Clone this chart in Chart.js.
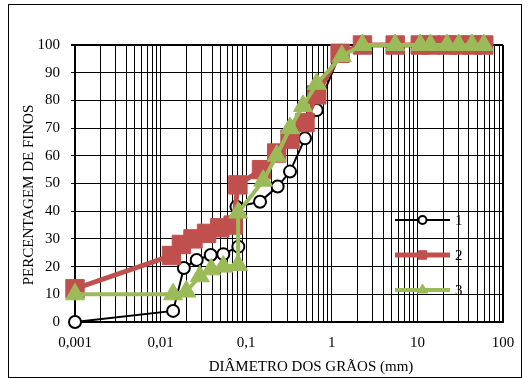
<!DOCTYPE html>
<html>
<head>
<meta charset="utf-8">
<script src="https://cdn.jsdelivr.net/npm/chart.js@4.4.1/dist/chart.umd.min.js"></script>
<style>
  html, body { margin: 0; padding: 0; background: #fff; }
</style>
</head>
<body>
<canvas id="graficoGranulometria" width="530" height="378"></canvas>
<script>
// Curvas granulométricas: diâmetro dos grãos (mm) x percentagem de finos
const amostras = ['1', '2', '3'];

const diametro1 = [0.001, 0.014, 0.0187, 0.0264, 0.0385, 0.054, 0.081, 0.077, 0.145, 0.233, 0.325, 0.486, 0.667, 1.25, 2.28, 5.5, 10.8, 14.2, 22.2, 30.4, 43.5, 59.6];
const finos1 = [0, 4, 19.5, 22.4, 24.2, 24.5, 27.2, 41.6, 43.4, 48.9, 54.3, 66.3, 76.5, 97, 100, 100, 100, 100, 100, 100, 100, 100];

const diametro2 = [0.001, 0.0134, 0.0175, 0.0239, 0.0344, 0.0491, 0.0705, 0.08, 0.151, 0.227, 0.325, 0.486, 0.667, 1.25, 2.28, 5.5, 10.8, 14.2, 22.2, 30.4, 43.5, 59.6];
const finos2 = [12, 24, 28, 30, 32, 34, 35, 49.5, 55, 61, 66, 72, 82, 97, 100, 100, 100, 100, 100, 100, 100, 100];

const diametro3 = [0.001, 0.014, 0.02, 0.0287, 0.039, 0.054, 0.0805, 0.0805, 0.158, 0.227, 0.325, 0.46, 0.667, 1.31, 2.28, 5.5, 10.8, 14.2, 22.2, 30.4, 43.5, 59.6];
const finos3 = [10, 10, 11, 16.5, 19, 20, 20.6, 39.5, 51, 60, 70, 78, 86, 96, 100, 100, 100, 100, 100, 100, 100, 100];

const xTicks = [0.001, 0.01, 0.1, 1, 10, 100];
const xTickLabels = ['0,001', '0,01', '0,1', '1', '10', '100'];

const tituloX = 'DIÂMETRO DOS GRÃOS (mm)';
const tituloY = 'PERCENTAGEM DE FINOS';

const fonteSerif = '"Liberation Serif", "Times New Roman", serif';

function pontos(xs, ys) {
    return xs.map((x, i) => ({ x: x, y: ys[i] }));
}

// moldura externa, títulos dos eixos e legenda dentro da área do gráfico
const extras = {
    id: 'extras',
    beforeDraw(chart) {
        const ctx = chart.ctx;
        ctx.save();
        ctx.fillStyle = '#fff';
        ctx.fillRect(0, 0, chart.width, chart.height);
        ctx.strokeStyle = '#000';
        ctx.lineWidth = 1;
        ctx.strokeRect(8.5, 4.5, 513, 373);
        ctx.restore();
    },
    afterDraw(chart) {
        const ctx = chart.ctx;
        ctx.save();
        ctx.fillStyle = '#000';
        ctx.font = '15px ' + fonteSerif;
        ctx.textAlign = 'center';
        ctx.textBaseline = 'middle';
        ctx.fillText(tituloX, 311, 367);

        ctx.translate(29, 195);
        ctx.rotate(-Math.PI / 2);
        ctx.fillText(tituloY, 0, 0);
        ctx.restore();

        // legenda
        ctx.save();
        chart.data.datasets.forEach((ds, i) => {
            const y = 220 + i * 35;
            ctx.strokeStyle = ds.borderColor;
            ctx.lineWidth = ds.borderWidth;
            ctx.beginPath();
            ctx.moveTo(395, y);
            ctx.lineTo(450, y);
            ctx.stroke();

            ctx.fillStyle = ds.pointBackgroundColor;
            ctx.strokeStyle = ds.pointBorderColor;
            ctx.lineWidth = ds.pointBorderWidth;
            Chart.helpers.drawPoint(ctx, {
                pointStyle: ds.pointStyle,
                radius: ds.legendRadius,
                borderWidth: ds.pointBorderWidth,
                rotation: 0
            }, 422.5, y);

            ctx.fillStyle = '#000';
            ctx.font = '15px ' + fonteSerif;
            ctx.textAlign = 'left';
            ctx.textBaseline = 'middle';
            ctx.fillText(ds.label, 455, y + 1);
        });
        ctx.restore();
    }
};

const ctxGranulometria = document.getElementById('graficoGranulometria').getContext('2d');
const graficoGranulometria = new Chart(ctxGranulometria, {
    type: 'scatter',
    data: {
        datasets: [{
            label: amostras[0],
            data: pontos(diametro1, finos1),
            showLine: true,
            clip: false,
            borderColor: '#000',
            borderWidth: 2,
            pointStyle: 'circle',
            pointRadius: 6,
            pointBackgroundColor: '#fff',
            pointBorderColor: '#000',
            pointBorderWidth: 2,
            legendRadius: 4,
            order: 3
        }, {
            label: amostras[1],
            data: pontos(diametro2, finos2),
            showLine: true,
            clip: false,
            borderColor: '#C0504D',
            borderWidth: 5,
            pointStyle: 'rect',
            pointRadius: 13,
            pointBackgroundColor: '#C0504D',
            pointBorderColor: '#C0504D',
            pointBorderWidth: 1,
            legendRadius: 6,
            order: 2
        }, {
            label: amostras[2],
            data: pontos(diametro3, finos3),
            showLine: true,
            clip: false,
            borderColor: '#9BBB59',
            borderWidth: 4,
            pointStyle: 'triangle',
            pointRadius: 11,
            pointBackgroundColor: '#9BBB59',
            pointBorderColor: '#9BBB59',
            pointBorderWidth: 1,
            legendRadius: 6,
            order: 1
        }]
    },
    options: {
        responsive: false,
        animation: false,
        layout: {
            padding: { left: 0, top: 45, right: 27, bottom: 0 }
        },
        font: { family: fonteSerif },
        scales: {
            x: {
                type: 'logarithmic',
                min: 0.001,
                max: 100,
                afterFit: function (scale) { scale.height = 56; },
                afterBuildTicks: function (scale) {
                    // linhas de grade em 1..9 de cada década
                    const valores = [];
                    for (let d = 0; d < xTicks.length - 1; d++) {
                        for (let m = 1; m <= 9; m++) valores.push(m * xTicks[d]);
                    }
                    valores.push(xTicks[xTicks.length - 1]);
                    scale.ticks = valores.map(v => ({ value: v }));
                },
                ticks: {
                    autoSkip: false,
                    maxRotation: 0,
                    padding: 12,
                    color: '#000',
                    font: { family: fonteSerif, size: 15 },
                    callback: function (valor) {
                        const i = xTicks.findIndex(t => Math.abs(Math.log10(t) - Math.log10(valor)) < 1e-6);
                        return i >= 0 ? xTickLabels[i] : '';
                    }
                },
                grid: {
                    color: '#000',
                    lineWidth: c => (c.tick && c.tick.value >= 100) ? 2 : 1,
                    drawTicks: false
                },
                border: { color: '#000', width: 2 }
            },
            y: {
                min: 0,
                max: 100,
                afterFit: function (scale) { scale.width = 75; },
                ticks: {
                    stepSize: 10,
                    padding: 11,
                    color: '#000',
                    font: { family: fonteSerif, size: 15 }
                },
                grid: {
                    color: '#000',
                    lineWidth: c => (c.tick && c.tick.value === 100) ? 2 : 1,
                    tickLength: 4
                },
                border: { color: '#000', width: 2 }
            }
        },
        plugins: {
            legend: { display: false },
            tooltip: { enabled: false }
        }
    },
    plugins: [extras]
});
</script>
</body>
</html>
